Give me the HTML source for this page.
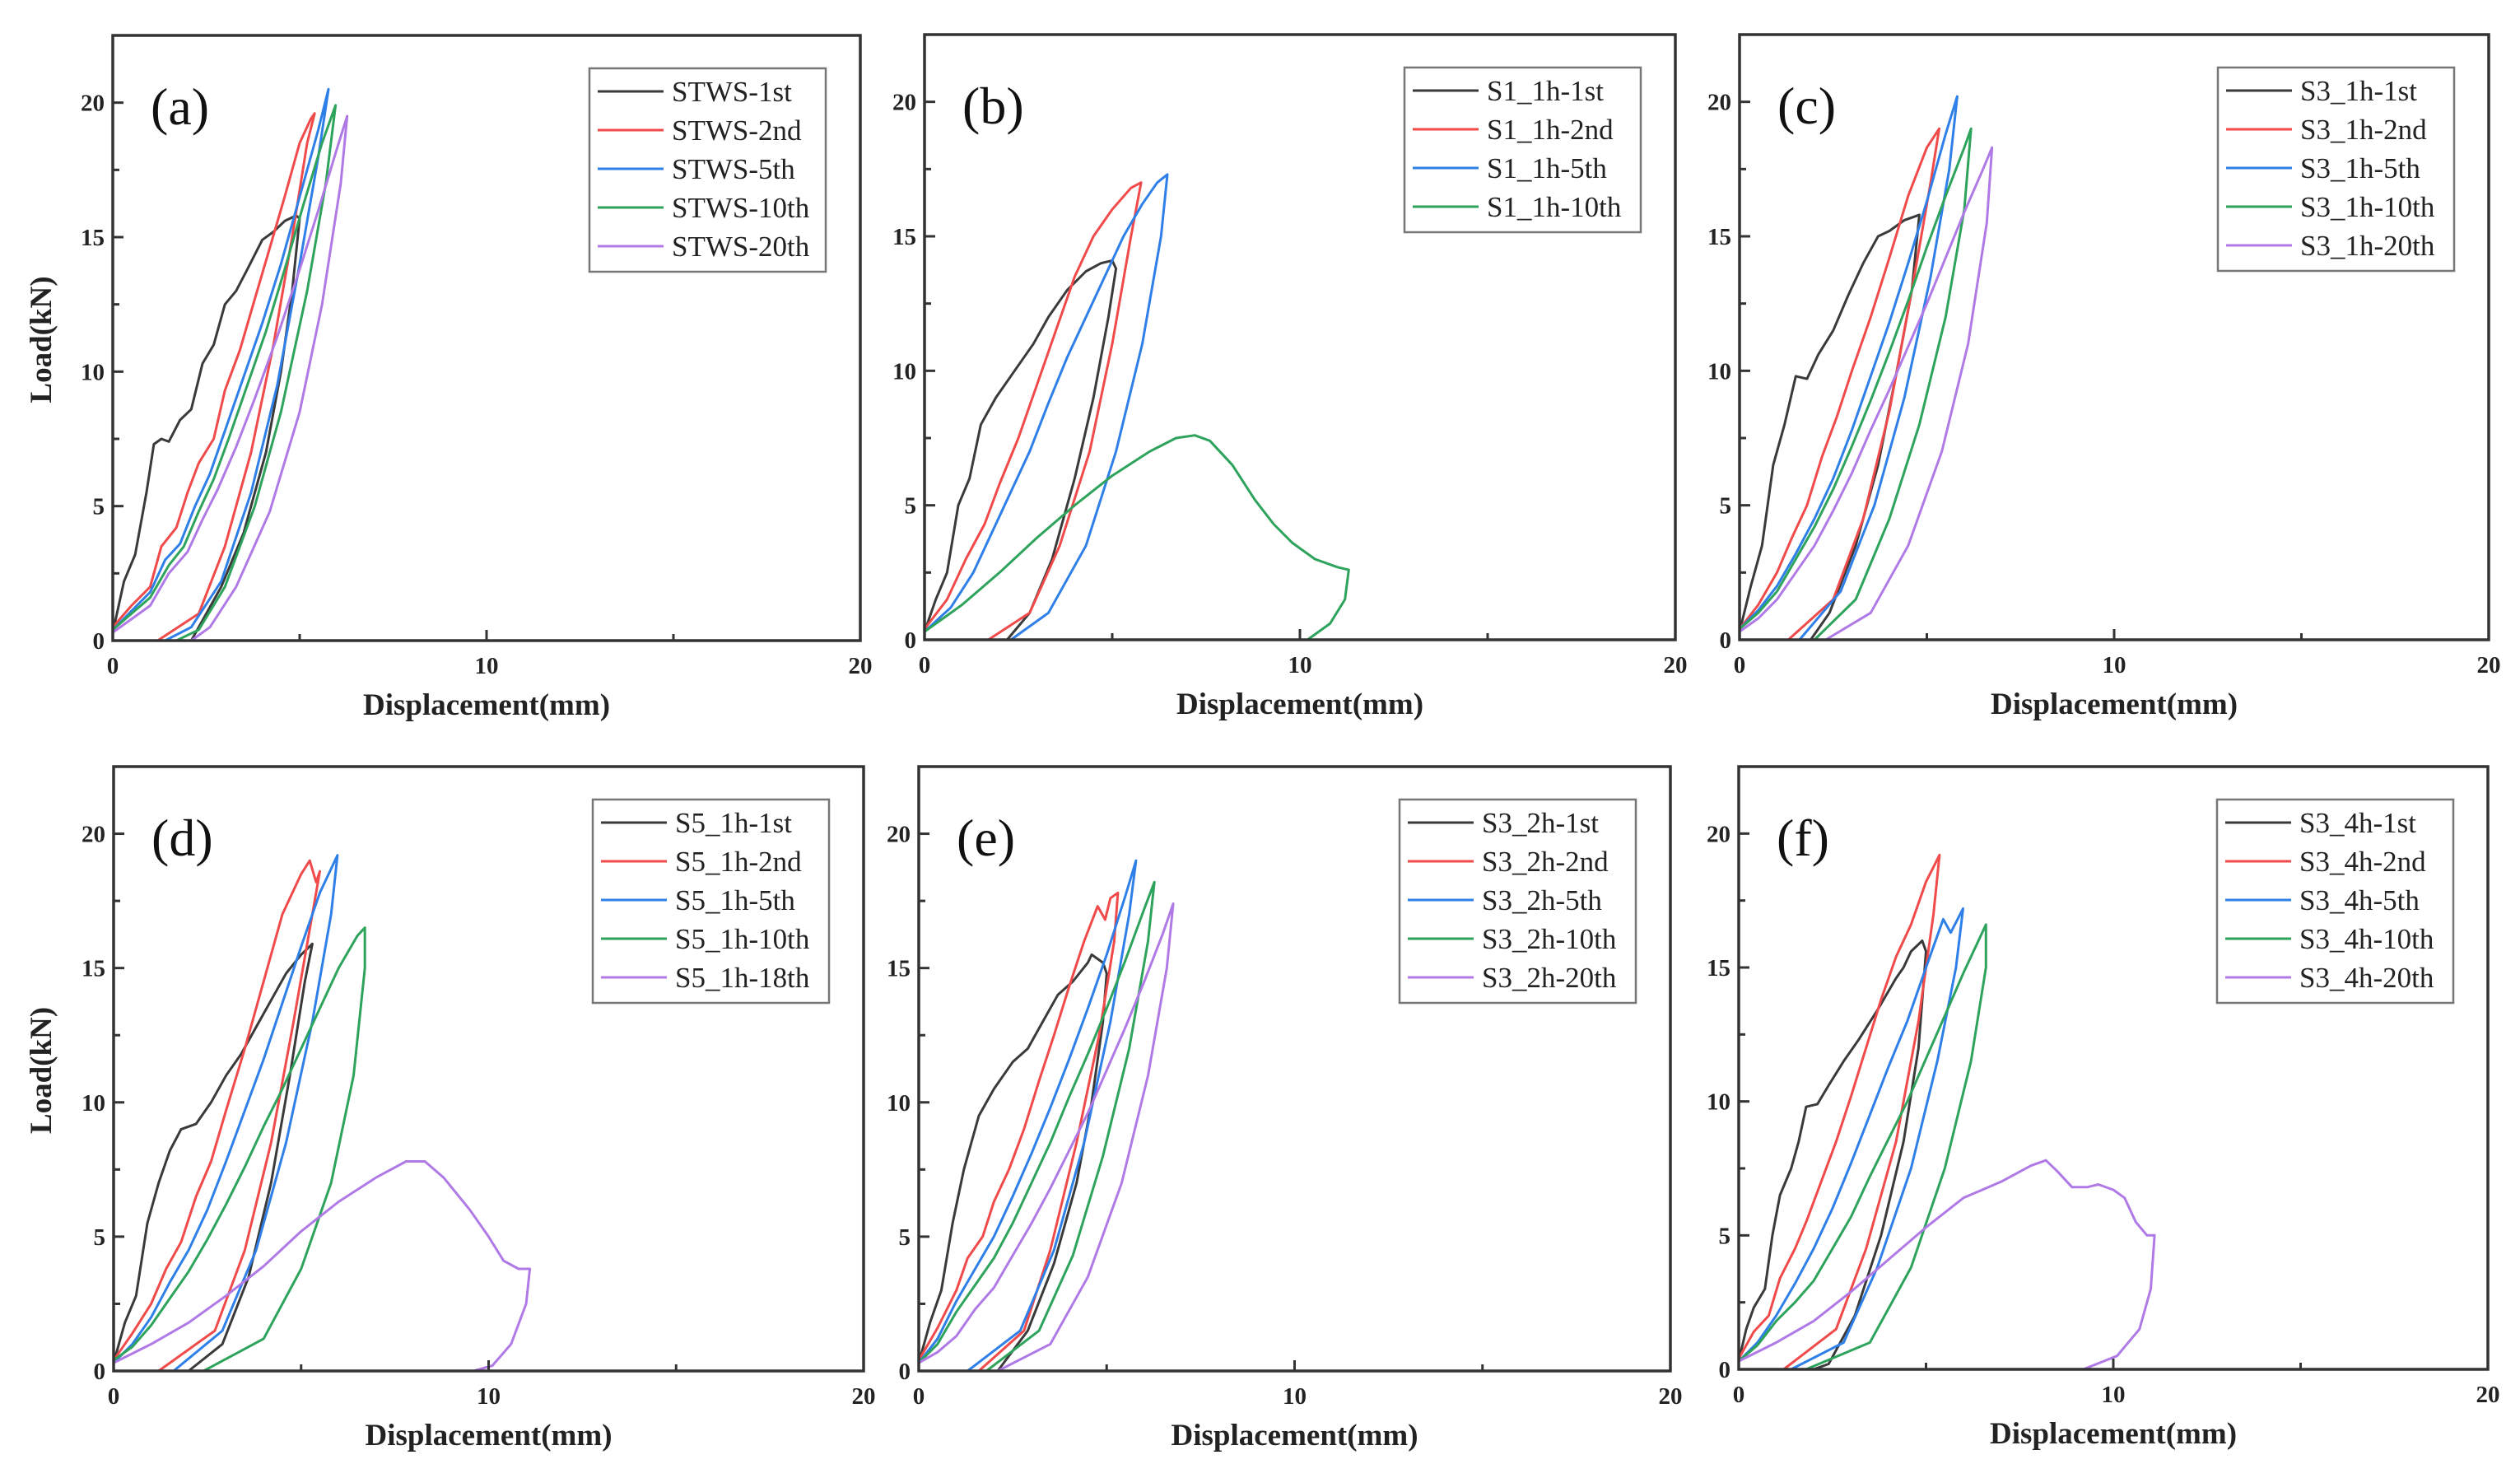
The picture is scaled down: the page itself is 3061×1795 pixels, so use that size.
<!DOCTYPE html>
<html><head><meta charset="utf-8">
<style>
html,body{margin:0;padding:0;background:#fff;}
svg{display:block;}
text{font-family:"Liberation Serif","Times New Roman",serif;}
</style></head>
<body>
<svg id="fig" width="3061" height="1795" viewBox="0 0 3061 1795" xmlns="http://www.w3.org/2000/svg"></svg>
<script>
// ---- data (displacement mm, load kN) ----
const xTicks = [0, 10, 20];
const yTicks = [0, 5, 10, 15, 20];
const colors = ['#3a3a3a', '#f04a4a', '#2f7fe8', '#2ea35c', '#b07ae6'];

const aNames = ['STWS-1st','STWS-2nd','STWS-5th','STWS-10th','STWS-20th'];
const a1 = [[0,0.3],[0.3,2.2],[0.6,3.2],[0.9,5.5],[1.1,7.3],[1.3,7.5],[1.5,7.4],[1.8,8.2],[2.1,8.6],[2.4,10.3],[2.7,11],[3,12.5],[3.3,13],[3.6,13.8],[4,14.9],[4.3,15.2],[4.6,15.6],[4.9,15.8],[5.0,15.7],[4.8,13],[4.5,10],[4.1,7],[3.5,4],[2.9,2],[2.3,0.5],[2.1,0]];
const a2 = [[0,0.5],[0.5,1.3],[1,2],[1.3,3.5],[1.7,4.2],[2,5.5],[2.3,6.6],[2.7,7.5],[3,9.3],[3.4,10.8],[3.8,12.7],[4.2,14.6],[4.6,16.5],[5,18.5],[5.3,19.4],[5.4,19.6],[5.2,18.5],[4.8,15],[4.3,11],[3.7,7],[3,3.5],[2.3,1],[1.2,0]];
const a5 = [[0,0.4],[0.5,1.1],[1,1.8],[1.4,3],[1.8,3.6],[2.2,5],[2.6,6.2],[3,7.8],[3.5,9.8],[4,11.8],[4.5,14],[5,16.5],[5.5,19],[5.77,20.5],[5.5,18],[5,14],[4.4,9.5],[3.7,5.5],[2.9,2.2],[2.1,0.5],[1.4,0]];
const a10 = [[0,0.4],[0.5,1],[1,1.6],[1.5,2.8],[1.9,3.5],[2.3,4.8],[2.7,6],[3.1,7.5],[3.6,9.5],[4.1,11.5],[4.6,13.8],[5.1,16.2],[5.6,18.5],[5.96,19.9],[5.7,17],[5.2,13],[4.5,8.5],[3.8,5],[3,2],[2.3,0.4],[1.7,0]];
const a20 = [[0,0.3],[0.5,0.8],[1,1.3],[1.5,2.5],[2,3.3],[2.4,4.5],[2.8,5.6],[3.3,7.2],[3.8,9],[4.4,11.3],[5,13.8],[5.5,16],[6,18.3],[6.27,19.5],[6.1,17],[5.6,12.5],[5,8.5],[4.2,4.8],[3.3,2],[2.6,0.5],[2.1,0]];

const bNames = ['S1_1h-1st','S1_1h-2nd','S1_1h-5th','S1_1h-10th'];
const b1 = [[0,0.3],[0.3,1.5],[0.6,2.5],[0.9,5],[1.2,6],[1.5,8],[1.9,9],[2.4,10],[2.9,11],[3.3,12],[3.8,13],[4.3,13.7],[4.7,14],[5,14.1],[5.1,13.8],[4.9,12],[4.5,9],[4,6],[3.4,3],[2.8,1],[2.2,0]];
const b2 = [[0,0.4],[0.6,1.5],[1.1,3],[1.6,4.3],[2,5.8],[2.5,7.5],[3,9.5],[3.5,11.5],[4,13.5],[4.5,15],[5,16],[5.5,16.8],[5.77,17],[5.5,15],[5,11],[4.4,7],[3.6,3.5],[2.8,1],[1.7,0]];
const b5 = [[0,0.3],[0.7,1.2],[1.3,2.5],[1.8,4],[2.3,5.5],[2.8,7],[3.3,8.8],[3.8,10.5],[4.3,12],[4.8,13.5],[5.3,15],[5.8,16.2],[6.2,17],[6.47,17.3],[6.3,15],[5.8,11],[5.1,7],[4.3,3.5],[3.3,1],[2.3,0]];
const b10 = [[0,0.3],[1,1.3],[2,2.5],[3,3.8],[4,5],[5,6.1],[6,7],[6.7,7.5],[7.2,7.6],[7.6,7.4],[8.2,6.5],[8.8,5.2],[9.3,4.3],[9.8,3.6],[10.4,3],[11,2.7],[11.3,2.6],[11.2,1.5],[10.8,0.6],[10.2,0]];

const cNames = ['S3_1h-1st','S3_1h-2nd','S3_1h-5th','S3_1h-10th','S3_1h-20th'];
const c1 = [[0,0.3],[0.3,2],[0.6,3.5],[0.9,6.5],[1.2,8],[1.5,9.8],[1.8,9.7],[2.1,10.6],[2.5,11.5],[2.9,12.8],[3.3,14],[3.7,15],[4,15.2],[4.4,15.6],[4.8,15.8],[4.6,13],[4.2,10],[3.7,6.5],[3.1,3.5],[2.4,1],[1.9,0]];
const c2 = [[0,0.4],[0.5,1.3],[1,2.5],[1.4,3.8],[1.8,5],[2.2,6.8],[2.6,8.3],[3,10],[3.5,12],[4,14.2],[4.5,16.5],[5,18.3],[5.33,19],[5.1,17],[4.6,13],[4,8.5],[3.3,4.5],[2.5,1.5],[1.3,0]];
const c5 = [[0,0.4],[0.5,1.1],[1,2],[1.5,3.2],[2,4.5],[2.5,6],[3,7.8],[3.5,9.8],[4,11.8],[4.5,14],[5,16.3],[5.5,18.8],[5.81,20.2],[5.6,17.5],[5.1,13.5],[4.4,9],[3.6,5],[2.7,1.8],[1.6,0]];
const c10 = [[0,0.4],[0.5,1],[1,1.8],[1.5,3],[2,4.2],[2.5,5.6],[3,7.2],[3.5,8.9],[4,10.7],[4.5,12.6],[5,14.6],[5.5,16.5],[6,18.3],[6.18,19],[6,16],[5.5,12],[4.8,8],[4,4.5],[3.1,1.5],[2,0]];
const c20 = [[0,0.3],[0.5,0.8],[1,1.5],[1.5,2.5],[2,3.5],[2.5,4.8],[3,6.2],[3.5,7.8],[4,9.3],[4.5,10.9],[5,12.5],[5.5,14.2],[6,15.9],[6.5,17.5],[6.74,18.3],[6.6,15.5],[6.1,11],[5.4,7],[4.5,3.5],[3.5,1],[2.3,0]];

const dNames = ['S5_1h-1st','S5_1h-2nd','S5_1h-5th','S5_1h-10th','S5_1h-18th'];
const d1 = [[0,0.3],[0.3,1.8],[0.6,2.8],[0.9,5.5],[1.2,7],[1.5,8.2],[1.8,9],[2.2,9.2],[2.6,10],[3,11],[3.4,11.8],[3.8,12.8],[4.2,13.8],[4.6,14.8],[5,15.5],[5.3,15.9],[5.1,14.5],[4.7,11],[4.2,7],[3.6,3.5],[2.9,1],[2,0]];
const d2 = [[0,0.4],[0.5,1.4],[1,2.5],[1.4,3.8],[1.8,4.8],[2.2,6.5],[2.6,7.8],[3,9.7],[3.5,12],[4,14.5],[4.5,17],[5,18.5],[5.23,19],[5.4,18.2],[5.5,18.6],[5.3,17],[4.8,13],[4.2,8.5],[3.5,4.5],[2.7,1.5],[1.2,0]];
const d5 = [[0,0.3],[0.5,1],[1,2],[1.5,3.3],[2,4.5],[2.5,6],[3,7.8],[3.5,9.7],[4,11.6],[4.5,13.7],[5,15.8],[5.5,17.8],[5.97,19.2],[5.8,17],[5.3,13],[4.6,8.5],[3.8,4.5],[2.9,1.5],[1.6,0]];
const d10 = [[0,0.4],[0.5,0.9],[1,1.7],[1.5,2.7],[2,3.7],[2.5,4.9],[3,6.2],[3.5,7.6],[4,9.1],[4.5,10.5],[5,12],[5.5,13.5],[6,15],[6.5,16.2],[6.7,16.5],[6.7,15],[6.4,11],[5.8,7],[5,3.8],[4,1.2],[2.4,0]];
const d18 = [[0,0.3],[1,1],[2,1.8],[3,2.8],[4,3.9],[5,5.2],[6,6.3],[7,7.2],[7.8,7.8],[8.3,7.8],[8.8,7.2],[9.5,6],[10,5],[10.4,4.1],[10.8,3.8],[11.1,3.8],[11,2.5],[10.6,1],[10.1,0.2],[9.6,0]];

const eNames = ['S3_2h-1st','S3_2h-2nd','S3_2h-5th','S3_2h-10th','S3_2h-20th'];
const e1 = [[0,0.3],[0.3,1.8],[0.6,3],[0.9,5.5],[1.2,7.5],[1.6,9.5],[2,10.5],[2.5,11.5],[2.9,12],[3.3,13],[3.7,14],[4.1,14.5],[4.5,15.2],[4.6,15.5],[4.9,15.2],[5,14.8],[4.9,13],[4.6,10],[4.2,7],[3.6,4],[2.9,1.5],[2.1,0]];
const e2 = [[0,0.4],[0.5,1.6],[1,3],[1.3,4.2],[1.7,5],[2,6.3],[2.4,7.5],[2.8,9],[3.2,10.8],[3.6,12.5],[4,14.3],[4.4,16],[4.76,17.3],[4.96,16.8],[5.1,17.6],[5.3,17.8],[5.2,16],[4.8,12.5],[4.2,8.5],[3.5,4.5],[2.8,1.5],[1.6,0]];
const e5 = [[0,0.3],[0.5,1.2],[1,2.6],[1.5,3.8],[2,5],[2.5,6.5],[3,8.1],[3.5,9.8],[4,11.6],[4.5,13.5],[5,15.5],[5.5,17.7],[5.78,19],[5.6,17],[5.1,13],[4.4,8.5],[3.6,4.5],[2.7,1.5],[1.3,0]];
const e10 = [[0,0.3],[0.5,1],[1,2.2],[1.5,3.2],[2,4.2],[2.5,5.5],[3,7],[3.5,8.5],[4,10.2],[4.5,11.8],[5,13.5],[5.5,15.3],[6,17.2],[6.27,18.2],[6.1,16],[5.6,12],[4.9,8],[4.1,4.3],[3.2,1.5],[1.8,0]];
const e20 = [[0,0.3],[0.5,0.7],[1,1.3],[1.5,2.3],[2,3.1],[2.5,4.3],[3,5.5],[3.5,6.8],[4,8.2],[4.5,9.6],[5,11.2],[5.5,12.8],[6,14.5],[6.5,16.3],[6.77,17.4],[6.6,15],[6.1,11],[5.4,7],[4.5,3.5],[3.5,1],[2.1,0]];

const fNames = ['S3_4h-1st','S3_4h-2nd','S3_4h-5th','S3_4h-10th','S3_4h-20th'];
const f1 = [[0,0.3],[0.2,1.5],[0.4,2.3],[0.7,3],[0.9,5],[1.1,6.5],[1.4,7.5],[1.6,8.5],[1.8,9.8],[2.1,9.9],[2.4,10.6],[2.8,11.5],[3.2,12.3],[3.7,13.4],[4.2,14.6],[4.4,15],[4.6,15.6],[4.9,16],[5,15.6],[4.8,12],[4.4,8.5],[3.8,5],[3.1,2],[2.4,0.2],[2,0]];
const f2 = [[0,0.4],[0.4,1.4],[0.8,2],[1.1,3.4],[1.5,4.5],[1.8,5.5],[2.2,7],[2.6,8.5],[3,10.2],[3.4,12],[3.8,13.8],[4.2,15.4],[4.6,16.6],[5,18.2],[5.36,19.2],[5.2,17],[4.8,13],[4.2,8.5],[3.4,4.5],[2.6,1.5],[1.2,0]];
const f5 = [[0,0.3],[0.5,1],[1,2],[1.5,3.2],[2,4.5],[2.5,6],[3,7.7],[3.5,9.5],[4,11.3],[4.5,13],[5,15],[5.46,16.8],[5.66,16.3],[5.99,17.2],[5.8,15],[5.3,11.5],[4.6,7.5],[3.7,3.8],[2.8,1],[1.4,0]];
const f10 = [[0,0.3],[0.5,0.9],[1,1.8],[1.5,2.5],[2,3.3],[2.5,4.5],[3,5.7],[3.5,7.2],[4,8.6],[4.5,10],[5,11.6],[5.5,13.2],[6,14.8],[6.6,16.6],[6.6,15],[6.2,11.5],[5.5,7.5],[4.6,3.8],[3.5,1],[1.8,0]];
const f20 = [[0,0.3],[1,1],[2,1.8],[3,2.9],[4,4.1],[5,5.3],[6,6.4],[7,7],[7.8,7.6],[8.2,7.8],[8.5,7.4],[8.9,6.8],[9.3,6.8],[9.6,6.9],[10,6.7],[10.3,6.4],[10.6,5.5],[10.9,5],[11.1,5],[11,3],[10.7,1.5],[10.1,0.5],[9.2,0],[0,0]];

// ---- layout ----
const panels = [
  {id:'a', L:137,  T:43,  W:908, H:735, names:aNames, series:[a1,a2,a5,a10,a20], ytitle:true},
  {id:'b', L:1123, T:42,  W:912, H:735, names:bNames, series:[b1,b2,b5,b10], ytitle:false},
  {id:'c', L:2113, T:42,  W:910, H:735, names:cNames, series:[c1,c2,c5,c10,c20], ytitle:false},
  {id:'d', L:138,  T:931, W:911, H:734, names:dNames, series:[d1,d2,d5,d10,d18], ytitle:true},
  {id:'e', L:1116, T:931, W:913, H:734, names:eNames, series:[e1,e2,e5,e10,e20], ytitle:false},
  {id:'f', L:2112, T:931, W:910, H:732, names:fNames, series:[f1,f2,f5,f10,f20], ytitle:false}
];
const XMAX = 20, YMAX = 22.5;
const NS = 'http://www.w3.org/2000/svg';
const svg = document.getElementById('fig');
function mk(tag, attrs, parent){
  const e = document.createElementNS(NS, tag);
  for (const k in attrs) e.setAttribute(k, attrs[k]);
  parent.appendChild(e);
  return e;
}

panels.forEach(p => {
  const g = mk('g', {}, svg);
  
  
  const sx = v => p.L + v / XMAX * p.W;
  const sy = v => p.T + p.H - v / YMAX * p.H;
  const B = p.T + p.H;

  // series
  p.series.forEach((pts, i) => {
    const d = pts.map((q, j) => (j ? 'L' : 'M') + sx(q[0]).toFixed(1) + ',' + sy(q[1]).toFixed(1)).join('');
    const path = mk('path', {d:d, fill:'none', stroke:colors[i], 'stroke-width':3, 'stroke-linejoin':'round'}, g);
    
    
  });

  // frame
  const fr = mk('rect', {x:p.L, y:p.T, width:p.W, height:p.H, fill:'none', stroke:'#333', 'stroke-width':3.5}, g);
  
  

  // x ticks
  for (let v = 0; v <= XMAX; v += 5) {
    const major = xTicks.indexOf(v) >= 0;
    const t = mk('line', {x1:sx(v), x2:sx(v), y1:B, y2:B - (major ? 13 : 8), stroke:'#333', 'stroke-width':3}, g);
    
    
  }
  xTicks.forEach(v => {
    const t = mk('text', {x:sx(v), y:B + 40, 'text-anchor':'middle', 'font-size':29, 'font-weight':'bold', fill:'#222'}, g);
    t.textContent = v;
    
    
  });
  // y ticks
  for (let v = 0; v <= 20.01; v += 2.5) {
    const major = yTicks.indexOf(v) >= 0;
    const t = mk('line', {x1:p.L, x2:p.L + (major ? 13 : 8), y1:sy(v), y2:sy(v), stroke:'#333', 'stroke-width':3}, g);
    
    
  }
  yTicks.forEach(v => {
    const t = mk('text', {x:p.L - 10, y:sy(v) + 10, 'text-anchor':'end', 'font-size':29, 'font-weight':'bold', fill:'#222'}, g);
    t.textContent = v;
    
    
  });

  // axis titles
  const xt = mk('text', {x:p.L + p.W/2, y:B + 90, 'text-anchor':'middle', 'font-size':37, 'font-weight':'bold', fill:'#222'}, g);
  xt.textContent = 'Displacement(mm)';
  
  
  if (p.ytitle) {
    const cy = p.T + p.H/2 + 2;
    const yt = mk('text', {x:62, y:cy, 'text-anchor':'middle', 'font-size':37, 'font-weight':'bold', fill:'#222', transform:'rotate(-90 62 ' + cy + ')'}, g);
    yt.textContent = 'Load(kN)';
    
    
  }

  // panel label
  const pl = mk('text', {x:p.L + 46, y:p.T + 108, 'font-size':64, fill:'#111'}, g);
  pl.textContent = '(' + p.id + ')';
  
  

  // legend
  const lw = 287, lx = p.L + p.W - 42 - lw, ly = p.T + 40, n = p.names.length;
  const lg = mk('g', {}, g);
  
  
  mk('rect', {x:lx, y:ly, width:lw, height:n*47 + 12, fill:'#fff', stroke:'#777', 'stroke-width':2.5}, lg);
  p.names.forEach((nm, i) => {
    const cy = ly + 28 + i*47;
    const ent = mk('g', {}, lg);
    
    
    mk('line', {x1:lx + 10, x2:lx + 90, y1:cy, y2:cy, stroke:colors[i], 'stroke-width':3}, ent);
    const t = mk('text', {x:lx + 100, y:cy + 12, 'font-size':35, fill:'#222'}, ent);
    t.textContent = nm;
  });
});
</script>
</body></html>
